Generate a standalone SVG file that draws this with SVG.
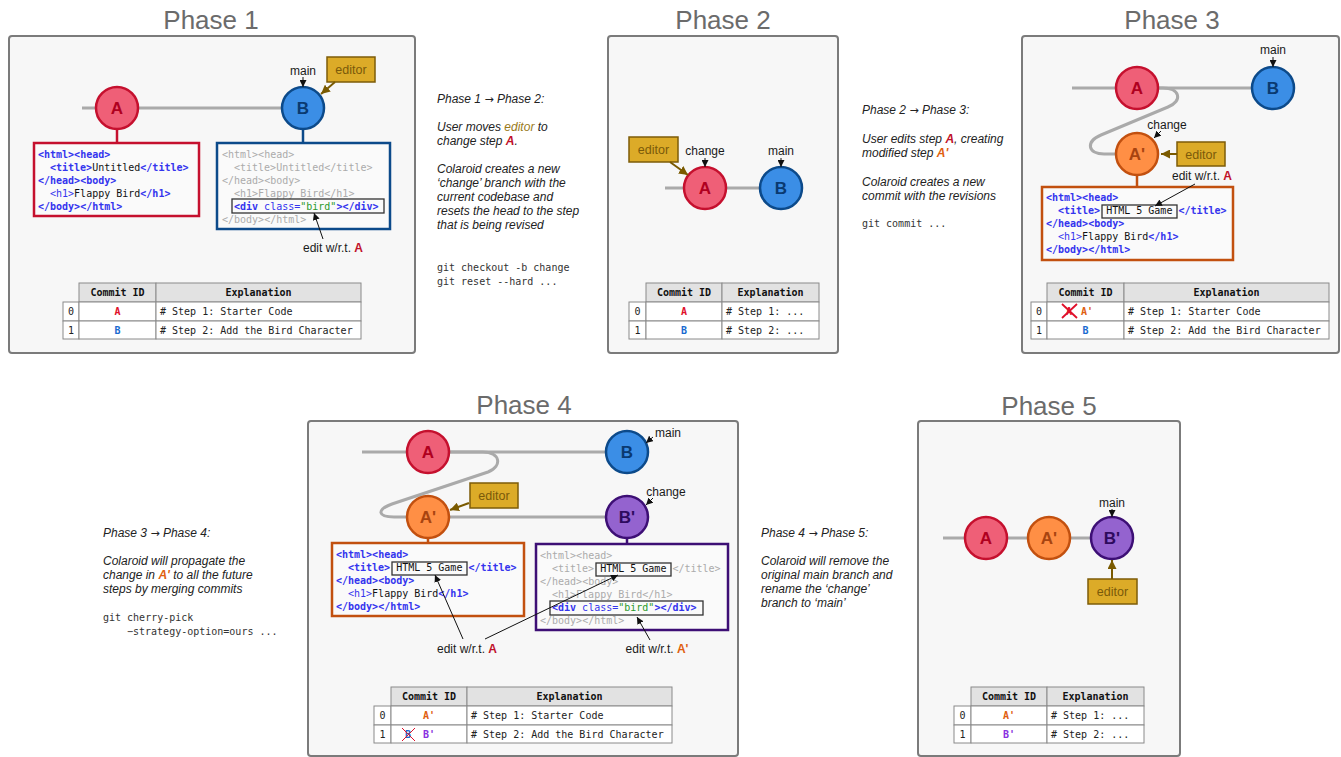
<svg xmlns="http://www.w3.org/2000/svg" width="1341" height="757" viewBox="0 0 1341 757">
<style>
.bg{fill:#ffffff}
.panel{fill:#f7f7f7;stroke:#7b7b7b;stroke-width:2}
.title{font-family:"Liberation Sans",Arial,sans-serif;font-size:26px;fill:#6b6b6b;text-anchor:middle}
.lbl{font-family:"Liberation Sans",Arial,sans-serif;font-size:12px;fill:#1a1a1a}
.note{font-family:"Liberation Sans",Arial,sans-serif;font-size:12px;font-style:italic;fill:#222}
.arw{font-family:"DejaVu Sans",sans-serif;font-style:normal;font-size:11px}
.cmd{font-family:"DejaVu Sans Mono","Liberation Mono",monospace;font-size:10px;fill:#333}
.code{font-family:"DejaVu Sans Mono","Liberation Mono",monospace;font-size:10px}
.t{fill:#3434ee;font-weight:bold}
.tn{fill:#3434ee}
.k{fill:#111}
.g{fill:#ababab}
.s{fill:#2a9a2a}
.hl{fill:none;stroke:#333;stroke-width:1.3}
.branch{fill:none;stroke:#aaaaaa;stroke-width:3}
.nl{font-family:"Liberation Sans",Arial,sans-serif;font-size:17px;font-weight:bold;text-anchor:middle}
.cA{fill:#ef5f77;stroke:#c5102e;stroke-width:2.5}
.cB{fill:#3b8ee6;stroke:#0c4a8a;stroke-width:2.5}
.cA2{fill:#ff8f45;stroke:#c2500f;stroke-width:2.5}
.cB2{fill:#9463cf;stroke:#3d0f75;stroke-width:2.5}
.ed{fill:#dcab28;stroke:#7d5c08;stroke-width:1.5}
.edt{font-family:"Liberation Sans",Arial,sans-serif;font-size:12.5px;fill:#7a5a0a;text-anchor:middle}
.edar{stroke:#7a5a00;stroke-width:2;fill:none}
.ar{stroke:#111;stroke-width:1;fill:none}
.th{fill:#e2e2e2;stroke:#8a8a8a;stroke-width:1}
.td{fill:#ffffff;stroke:#8a8a8a;stroke-width:1}
.tt{font-family:"DejaVu Sans Mono","Liberation Mono",monospace;font-size:10px;fill:#222}
.tb{font-weight:bold;fill:#111}
.mid{text-anchor:middle}
.rA{fill:#e0102a;font-weight:bold}
.rB{fill:#1a6ad0;font-weight:bold}
.rA2{fill:#e06010;font-weight:bold}
.rB2{fill:#8a30e0;font-weight:bold}
.xA{fill:#c0102a;font-weight:bold}
.xA2{fill:#e06010;font-weight:bold}
.edw{fill:#9a7a1a}
.cross{stroke:#e0102a;fill:none}
</style>
<defs>
<marker id="ah" viewBox="0 0 10 10" refX="10" refY="5" markerWidth="7" markerHeight="7" markerUnits="userSpaceOnUse" orient="auto"><path d="M0,0 L10,5 L0,10 z" fill="#111"/></marker>
<marker id="ahb" viewBox="0 0 10 10" refX="10" refY="5" markerWidth="9" markerHeight="9" markerUnits="userSpaceOnUse" orient="auto"><path d="M0,0 L10,5 L0,10 z" fill="#7a5a00"/></marker>
</defs>
<rect class="bg" x="0" y="0" width="1341" height="757"/>

<!-- Titles -->
<text class="title" x="211" y="29">Phase 1</text>
<text class="title" x="723" y="29">Phase 2</text>
<text class="title" x="1172" y="29">Phase 3</text>
<text class="title" x="524" y="414">Phase 4</text>
<text class="title" x="1049" y="415">Phase 5</text>

<!-- Panels -->
<rect class="panel" x="9" y="36" width="406" height="317" rx="3"/>
<rect class="panel" x="608" y="36" width="230" height="317" rx="3"/>
<rect class="panel" x="1022" y="36" width="317" height="317" rx="3"/>
<rect class="panel" x="308" y="421" width="430" height="335" rx="3"/>
<rect class="panel" x="918" y="421" width="262" height="335" rx="3"/>

<!-- Notes -->
<g id="note12">
<text class="note" x="437" y="103">Phase 1 <tspan class="arw">→</tspan> Phase 2:</text>
<text class="note" x="437" y="131">User moves <tspan class="edw">editor</tspan> to</text>
<text class="note" x="437" y="145">change step <tspan class="xA">A</tspan>.</text>
<text class="note" x="437" y="173">Colaroid creates a new</text>
<text class="note" x="437" y="187">‘change’ branch with the</text>
<text class="note" x="437" y="201">current codebase and</text>
<text class="note" x="437" y="215">resets the head to the step</text>
<text class="note" x="437" y="229">that is being revised</text>
<text class="cmd" x="437" y="271">git checkout -b change</text>
<text class="cmd" x="437" y="285">git reset --hard ...</text>
</g>
<g id="note23">
<text class="note" x="862" y="114">Phase 2 <tspan class="arw">→</tspan> Phase 3:</text>
<text class="note" x="862" y="143">User edits step <tspan class="xA">A</tspan>, creating</text>
<text class="note" x="862" y="157">modified step <tspan class="xA2">A'</tspan></text>
<text class="note" x="862" y="186">Colaroid creates a new</text>
<text class="note" x="862" y="200">commit with the revisions</text>
<text class="cmd" x="862" y="227">git commit ...</text>
</g>
<g id="note34">
<text class="note" x="103" y="537">Phase 3 <tspan class="arw">→</tspan> Phase 4:</text>
<text class="note" x="103" y="565">Colaroid will propagate the</text>
<text class="note" x="103" y="579">change in <tspan class="xA2">A'</tspan> to all the future</text>
<text class="note" x="103" y="593">steps by merging commits</text>
<text class="cmd" x="103" y="621">git cherry-pick</text>
<text class="cmd" x="127" y="635">−strategy-option=ours ...</text>
</g>
<g id="note45">
<text class="note" x="761" y="537">Phase 4 <tspan class="arw">→</tspan> Phase 5:</text>
<text class="note" x="761" y="565">Colaroid will remove the</text>
<text class="note" x="761" y="579">original main branch and</text>
<text class="note" x="761" y="593">rename the ‘change’</text>
<text class="note" x="761" y="607">branch to ‘main’</text>
</g>

<!-- Connectors: branch lines and stems (under nodes) -->
<g id="connectors">
<line class="branch" x1="82" y1="108" x2="303" y2="108"/>
<line x1="117" y1="129" x2="117" y2="143" stroke="#c5102e" stroke-width="2.5"/>
<line x1="303" y1="129" x2="303" y2="143" stroke="#0c4a8a" stroke-width="2.5"/>
<line class="branch" x1="665" y1="188" x2="781" y2="188"/>
<line class="branch" x1="1072" y1="88" x2="1273" y2="88"/>
<path class="branch" d="M1150,88 H1163 C1180,88 1183,101 1168,107 L1101,135 C1085,142 1088,154 1104,154 H1137"/>
<line x1="1137" y1="175" x2="1137" y2="187" stroke="#c2500f" stroke-width="2.5"/>
<line class="branch" x1="362" y1="452" x2="627" y2="452"/>
<path class="branch" d="M440,452 H483 C500,452 503,466 488,472 L392,504 C376,510 378,517 394,517 H627"/>
<line x1="428" y1="538" x2="428" y2="543" stroke="#c2500f" stroke-width="2.5"/>
<line x1="627" y1="538" x2="627" y2="544" stroke="#3d0f75" stroke-width="2.5"/>
<line class="branch" x1="943" y1="538" x2="1112" y2="538"/>
</g>

<!-- Phase 1 nodes -->
<g id="p1-A"><circle class="cA" cx="117" cy="108" r="21"/><text class="nl" x="117" y="114" fill="#b00020">A</text></g>
<g id="p1-B"><circle class="cB" cx="303" cy="108" r="21"/><text class="nl" x="303" y="114" fill="#0a3a70">B</text></g>
<g id="p1-main"><text class="lbl mid" x="303" y="75">main</text></g>
<g id="p1-editor"><rect class="ed" x="327" y="57" width="48" height="25"/><text class="edt" x="351" y="74">editor</text></g>
<g id="p1-codeA">
<rect x="34" y="143" width="165" height="73" fill="#fafafa" stroke="#c5102e" stroke-width="2.5"/>
<text class="code" x="38" y="158"><tspan class="t">&lt;html&gt;&lt;head&gt;</tspan></text>
<text class="code" x="50" y="171"><tspan class="t">&lt;title&gt;</tspan><tspan class="k">Untitled</tspan><tspan class="t">&lt;/title&gt;</tspan></text>
<text class="code" x="38" y="184"><tspan class="t">&lt;/head&gt;&lt;body&gt;</tspan></text>
<text class="code" x="50" y="197"><tspan class="tn">&lt;h1&gt;</tspan><tspan class="k">Flappy Bird</tspan><tspan class="t">&lt;/h1&gt;</tspan></text>
<text class="code" x="38" y="210"><tspan class="t">&lt;/body&gt;&lt;/html&gt;</tspan></text>
</g>
<g id="p1-codeB">
<rect x="217" y="143" width="173" height="86" fill="#fafafa" stroke="#0c4a8a" stroke-width="2.5"/>
<text class="code g" x="222" y="158">&lt;html&gt;&lt;head&gt;</text>
<text class="code g" x="234" y="171">&lt;title&gt;Untitled&lt;/title&gt;</text>
<text class="code g" x="222" y="184">&lt;/head&gt;&lt;body&gt;</text>
<text class="code g" x="234" y="197">&lt;h1&gt;Flappy Bird&lt;/h1&gt;</text>
<rect class="hl" x="232" y="199" width="152" height="14"/>
<text class="code" x="234" y="210" xml:space="preserve"><tspan class="t">&lt;div</tspan><tspan class="tn"> class=</tspan><tspan class="s">"bird"</tspan><tspan class="t">&gt;&lt;/div&gt;</tspan></text>
<text class="code g" x="222" y="223">&lt;/body&gt;&lt;/html&gt;</text>
</g>
<g id="p1-edit"><text class="lbl mid" x="333" y="252">edit w/r.t. <tspan class="xA">A</tspan></text></g>
<g id="p1-table">
<rect class="th" x="79" y="283" width="77" height="19"/>
<rect class="th" x="156" y="283" width="205" height="19"/>
<rect class="td" x="63" y="302" width="16" height="19"/><rect class="td" x="79" y="302" width="77" height="19"/><rect class="td" x="156" y="302" width="205" height="19"/>
<rect class="td" x="63" y="321" width="16" height="18"/><rect class="td" x="79" y="321" width="77" height="18"/><rect class="td" x="156" y="321" width="205" height="18"/>
<text class="tt tb mid" x="117.5" y="296">Commit ID</text>
<text class="tt tb mid" x="258.5" y="296">Explanation</text>
<text class="tt mid" x="71" y="315">0</text><text class="tt mid rA" x="117.5" y="315">A</text><text class="tt" x="160" y="315"># Step 1: Starter Code</text>
<text class="tt mid" x="71" y="334">1</text><text class="tt mid rB" x="117.5" y="334">B</text><text class="tt" x="160" y="334"># Step 2: Add the Bird Character</text>
</g>

<!-- Phase 2 nodes -->
<g id="p2-A"><circle class="cA" cx="705" cy="188" r="21"/><text class="nl" x="705" y="194" fill="#b00020">A</text></g>
<g id="p2-B"><circle class="cB" cx="781" cy="188" r="21"/><text class="nl" x="781" y="194" fill="#0a3a70">B</text></g>
<g id="p2-labels"><text class="lbl mid" x="705" y="155">change</text><text class="lbl mid" x="781" y="155">main</text></g>
<g id="p2-editor"><rect class="ed" x="629" y="137" width="49" height="25"/><text class="edt" x="653.5" y="154">editor</text></g>
<g id="p2-table">
<rect class="th" x="646" y="283" width="76" height="19"/>
<rect class="th" x="722" y="283" width="97" height="19"/>
<rect class="td" x="629" y="302" width="17" height="19"/><rect class="td" x="646" y="302" width="76" height="19"/><rect class="td" x="722" y="302" width="97" height="19"/>
<rect class="td" x="629" y="321" width="17" height="18"/><rect class="td" x="646" y="321" width="76" height="18"/><rect class="td" x="722" y="321" width="97" height="18"/>
<text class="tt tb mid" x="684" y="296">Commit ID</text>
<text class="tt tb mid" x="770.5" y="296">Explanation</text>
<text class="tt mid" x="637.5" y="315">0</text><text class="tt mid rA" x="684" y="315">A</text><text class="tt" x="726" y="315"># Step 1: ...</text>
<text class="tt mid" x="637.5" y="334">1</text><text class="tt mid rB" x="684" y="334">B</text><text class="tt" x="726" y="334"># Step 2: ...</text>
</g>

<!-- Phase 3 nodes -->
<g id="p3-A"><circle class="cA" cx="1137" cy="88" r="21"/><text class="nl" x="1137" y="94" fill="#b00020">A</text></g>
<g id="p3-B"><circle class="cB" cx="1273" cy="88" r="21"/><text class="nl" x="1273" y="94" fill="#0a3a70">B</text></g>
<g id="p3-A2"><circle class="cA2" cx="1137" cy="154" r="21"/><text class="nl" x="1137" y="160" fill="#a84410">A'</text></g>
<g id="p3-labels"><text class="lbl mid" x="1273" y="54">main</text><text class="lbl mid" x="1167" y="129">change</text></g>
<g id="p3-editor"><rect class="ed" x="1177" y="142" width="48" height="24"/><text class="edt" x="1201" y="158.5">editor</text></g>
<g id="p3-edit"><text class="lbl mid" x="1202" y="180">edit w/r.t. <tspan class="xA">A</tspan></text></g>
<g id="p3-code">
<rect x="1042" y="187" width="191" height="73" fill="#fafafa" stroke="#c2500f" stroke-width="2.5"/>
<text class="code" x="1046" y="201"><tspan class="t">&lt;html&gt;&lt;head&gt;</tspan></text>
<rect class="hl" x="1102" y="205" width="75" height="13"/>
<text class="code" x="1058" y="214" xml:space="preserve"><tspan class="t">&lt;title&gt;</tspan><tspan class="k"> HTML 5 Game </tspan><tspan class="t">&lt;/title&gt;</tspan></text>
<text class="code" x="1046" y="227"><tspan class="t">&lt;/head&gt;&lt;body&gt;</tspan></text>
<text class="code" x="1058" y="240"><tspan class="tn">&lt;h1&gt;</tspan><tspan class="k">Flappy Bird</tspan><tspan class="t">&lt;/h1&gt;</tspan></text>
<text class="code" x="1046" y="253"><tspan class="t">&lt;/body&gt;&lt;/html&gt;</tspan></text>
</g>
<g id="p3-table">
<rect class="th" x="1047" y="283" width="77" height="19"/>
<rect class="th" x="1124" y="283" width="205" height="19"/>
<rect class="td" x="1031" y="302" width="16" height="19"/><rect class="td" x="1047" y="302" width="77" height="19"/><rect class="td" x="1124" y="302" width="205" height="19"/>
<rect class="td" x="1031" y="321" width="16" height="18"/><rect class="td" x="1047" y="321" width="77" height="18"/><rect class="td" x="1124" y="321" width="205" height="18"/>
<text class="tt tb mid" x="1085.5" y="296">Commit ID</text>
<text class="tt tb mid" x="1226.5" y="296">Explanation</text>
<text class="tt mid" x="1039" y="315">0</text>
<text class="tt mid rA" x="1069" y="315">A</text>
<path class="cross" stroke-width="1.8" d="M1062,304 L1077,318 M1077,304 L1062,318"/>
<text class="tt mid rA2" x="1087" y="315">A'</text>
<text class="tt" x="1128" y="315"># Step 1: Starter Code</text>
<text class="tt mid" x="1039" y="334">1</text><text class="tt mid rB" x="1085.5" y="334">B</text><text class="tt" x="1128" y="334"># Step 2: Add the Bird Character</text>
</g>

<!-- Phase 4 nodes -->
<g id="p4-A"><circle class="cA" cx="428" cy="452" r="21"/><text class="nl" x="428" y="458" fill="#b00020">A</text></g>
<g id="p4-B"><circle class="cB" cx="627" cy="452" r="21"/><text class="nl" x="627" y="458" fill="#0a3a70">B</text></g>
<g id="p4-A2"><circle class="cA2" cx="428" cy="517" r="21"/><text class="nl" x="428" y="523" fill="#a84410">A'</text></g>
<g id="p4-B2"><circle class="cB2" cx="627" cy="517" r="21"/><text class="nl" x="627" y="523" fill="#2e0a5e">B'</text></g>
<g id="p4-labels"><text class="lbl mid" x="668" y="437">main</text><text class="lbl mid" x="666" y="496">change</text></g>
<g id="p4-editor"><rect class="ed" x="470" y="483" width="48" height="25"/><text class="edt" x="494" y="500">editor</text></g>
<g id="p4-codeA2">
<rect x="332" y="543" width="192" height="73" fill="#fafafa" stroke="#c2500f" stroke-width="2.5"/>
<text class="code" x="336" y="558"><tspan class="t">&lt;html&gt;&lt;head&gt;</tspan></text>
<rect class="hl" x="392" y="562" width="75" height="13"/>
<text class="code" x="348" y="571" xml:space="preserve"><tspan class="t">&lt;title&gt;</tspan><tspan class="k"> HTML 5 Game </tspan><tspan class="t">&lt;/title&gt;</tspan></text>
<text class="code" x="336" y="584"><tspan class="t">&lt;/head&gt;&lt;body&gt;</tspan></text>
<text class="code" x="348" y="597"><tspan class="tn">&lt;h1&gt;</tspan><tspan class="k">Flappy Bird</tspan><tspan class="t">&lt;/h1&gt;</tspan></text>
<text class="code" x="336" y="610"><tspan class="t">&lt;/body&gt;&lt;/html&gt;</tspan></text>
</g>
<g id="p4-codeB2">
<rect x="536" y="544" width="192" height="86" fill="#fafafa" stroke="#3d0f75" stroke-width="2.5"/>
<text class="code g" x="540" y="559">&lt;html&gt;&lt;head&gt;</text>
<rect class="hl" x="596" y="563" width="75" height="13"/>
<text class="code" x="552" y="572" xml:space="preserve"><tspan class="g">&lt;title&gt;</tspan><tspan class="k"> HTML 5 Game </tspan><tspan class="g">&lt;/title&gt;</tspan></text>
<text class="code g" x="540" y="585">&lt;/head&gt;&lt;body&gt;</text>
<text class="code g" x="552" y="598">&lt;h1&gt;Flappy Bird&lt;/h1&gt;</text>
<rect class="hl" x="550" y="601" width="153" height="14"/>
<text class="code" x="552" y="611" xml:space="preserve"><tspan class="t">&lt;div</tspan><tspan class="tn"> class=</tspan><tspan class="s">"bird"</tspan><tspan class="t">&gt;&lt;/div&gt;</tspan></text>
<text class="code g" x="540" y="624">&lt;/body&gt;&lt;/html&gt;</text>
</g>
<g id="p4-edits"><text class="lbl mid" x="467" y="653">edit w/r.t. <tspan class="xA">A</tspan></text><text class="lbl mid" x="657" y="653">edit w/r.t. <tspan class="xA2">A'</tspan></text></g>
<g id="p4-table">
<rect class="th" x="391" y="687" width="76" height="19"/>
<rect class="th" x="467" y="687" width="205" height="19"/>
<rect class="td" x="374" y="706" width="17" height="19"/><rect class="td" x="391" y="706" width="76" height="19"/><rect class="td" x="467" y="706" width="205" height="19"/>
<rect class="td" x="374" y="725" width="17" height="18"/><rect class="td" x="391" y="725" width="76" height="18"/><rect class="td" x="467" y="725" width="205" height="18"/>
<text class="tt tb mid" x="429" y="700">Commit ID</text>
<text class="tt tb mid" x="569.5" y="700">Explanation</text>
<text class="tt mid" x="382.5" y="719">0</text><text class="tt mid rA2" x="429" y="719">A'</text><text class="tt" x="471" y="719"># Step 1: Starter Code</text>
<text class="tt mid" x="382.5" y="738">1</text>
<text class="tt mid rB" x="408" y="738">B</text>
<path class="cross" stroke-width="1" d="M402,728 L415,741 M415,728 L402,741"/>
<text class="tt mid rB2" x="429" y="738">B'</text>
<text class="tt" x="471" y="738"># Step 2: Add the Bird Character</text>
</g>

<!-- Phase 5 nodes -->
<g id="p5-A"><circle class="cA" cx="986" cy="538" r="21"/><text class="nl" x="986" y="544" fill="#b00020">A</text></g>
<g id="p5-A2"><circle class="cA2" cx="1049" cy="538" r="21"/><text class="nl" x="1049" y="544" fill="#a84410">A'</text></g>
<g id="p5-B2"><circle class="cB2" cx="1112" cy="538" r="21"/><text class="nl" x="1112" y="544" fill="#2e0a5e">B'</text></g>
<g id="p5-labels"><text class="lbl mid" x="1112" y="507">main</text></g>
<g id="p5-editor"><rect class="ed" x="1088" y="579" width="49" height="25"/><text class="edt" x="1112.5" y="596">editor</text></g>
<g id="p5-table">
<rect class="th" x="971" y="687" width="76" height="19"/>
<rect class="th" x="1047" y="687" width="97" height="19"/>
<rect class="td" x="954" y="706" width="17" height="19"/><rect class="td" x="971" y="706" width="76" height="19"/><rect class="td" x="1047" y="706" width="97" height="19"/>
<rect class="td" x="954" y="725" width="17" height="18"/><rect class="td" x="971" y="725" width="76" height="18"/><rect class="td" x="1047" y="725" width="97" height="18"/>
<text class="tt tb mid" x="1009" y="700">Commit ID</text>
<text class="tt tb mid" x="1095.5" y="700">Explanation</text>
<text class="tt mid" x="962.5" y="719">0</text><text class="tt mid rA2" x="1009" y="719">A'</text><text class="tt" x="1051" y="719"># Step 1: ...</text>
<text class="tt mid" x="962.5" y="738">1</text><text class="tt mid rB2" x="1009" y="738">B'</text><text class="tt" x="1051" y="738"># Step 2: ...</text>
</g>

<!-- Connectors: pointer arrows (over nodes and code boxes) -->
<g id="pointer-connectors">
<line class="ar" x1="303" y1="77" x2="303" y2="87" marker-end="url(#ah)"/>
<line class="edar" x1="335" y1="82" x2="321" y2="94" marker-end="url(#ahb)"/>
<line class="ar" x1="323" y1="239" x2="314" y2="213" marker-end="url(#ah)"/>
<line class="ar" x1="705" y1="158" x2="705" y2="167" marker-end="url(#ah)"/>
<line class="ar" x1="781" y1="158" x2="781" y2="167" marker-end="url(#ah)"/>
<line class="edar" x1="670" y1="162" x2="688" y2="175" marker-end="url(#ahb)"/>
<line class="ar" x1="1273" y1="57" x2="1273" y2="67" marker-end="url(#ah)"/>
<line class="ar" x1="1161" y1="131" x2="1154" y2="138" marker-end="url(#ah)"/>
<line class="edar" x1="1177" y1="154" x2="1161" y2="154" marker-end="url(#ahb)"/>
<line class="ar" x1="1195" y1="184" x2="1155" y2="206" marker-end="url(#ah)"/>
<line class="ar" x1="653" y1="437" x2="646" y2="443" marker-end="url(#ah)"/>
<line class="ar" x1="653" y1="498" x2="646" y2="505" marker-end="url(#ah)"/>
<line class="edar" x1="469" y1="503" x2="450" y2="510" marker-end="url(#ahb)"/>
<line class="ar" x1="463" y1="639" x2="435" y2="575" marker-end="url(#ah)"/>
<line class="ar" x1="485" y1="639" x2="618" y2="575" marker-end="url(#ah)"/>
<line class="ar" x1="650" y1="640" x2="637" y2="617" marker-end="url(#ah)"/>
<line class="ar" x1="1112" y1="509" x2="1112" y2="517" marker-end="url(#ah)"/>
<line class="edar" x1="1112" y1="579" x2="1112" y2="560" marker-end="url(#ahb)"/>
</g>
</svg>
